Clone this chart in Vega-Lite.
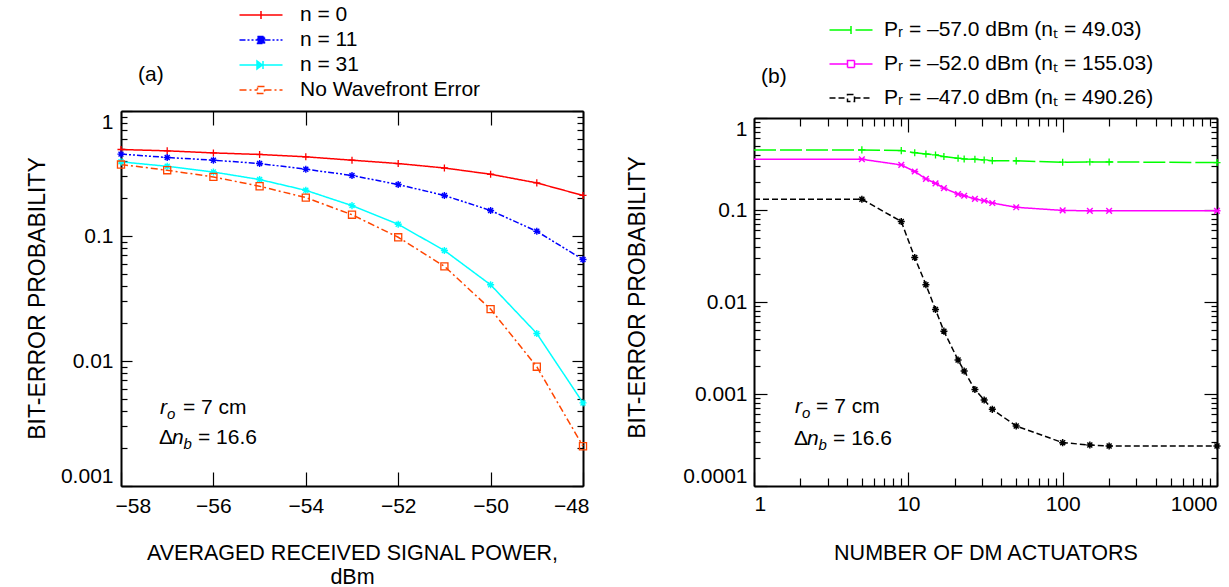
{
  "$schema": "https://vega.github.io/schema/vega-lite/v6.json",
  "autosize": {"type": "pad"},
  "padding": {"left": 26, "top": 4, "right": 0, "bottom": 0},
  "spacing": 171,
  "bounds": "flush",
  "resolve": {"scale": {"color": "independent", "strokeDash": "independent"}, "legend": {"color": "independent", "strokeDash": "independent"}},
  "datasets": {
    "a": [
      {"series": "n = 0", "x": -58, "y": 0.492}, {"series": "n = 0", "x": -57, "y": 0.48}, {"series": "n = 0", "x": -56, "y": 0.462}, {"series": "n = 0", "x": -55, "y": 0.449}, {"series": "n = 0", "x": -54, "y": 0.43}, {"series": "n = 0", "x": -53, "y": 0.404}, {"series": "n = 0", "x": -52, "y": 0.38}, {"series": "n = 0", "x": -51, "y": 0.35}, {"series": "n = 0", "x": -50, "y": 0.312}, {"series": "n = 0", "x": -49, "y": 0.266}, {"series": "n = 0", "x": -48, "y": 0.211},
      {"series": "n = 11", "x": -58, "y": 0.452}, {"series": "n = 11", "x": -57, "y": 0.425}, {"series": "n = 11", "x": -56, "y": 0.404}, {"series": "n = 11", "x": -55, "y": 0.38}, {"series": "n = 11", "x": -54, "y": 0.342}, {"series": "n = 11", "x": -53, "y": 0.305}, {"series": "n = 11", "x": -52, "y": 0.258}, {"series": "n = 11", "x": -51, "y": 0.211}, {"series": "n = 11", "x": -50, "y": 0.16}, {"series": "n = 11", "x": -49, "y": 0.109}, {"series": "n = 11", "x": -48, "y": 0.0648},
      {"series": "n = 31", "x": -58, "y": 0.392}, {"series": "n = 31", "x": -57, "y": 0.361}, {"series": "n = 31", "x": -56, "y": 0.325}, {"series": "n = 31", "x": -55, "y": 0.283}, {"series": "n = 31", "x": -54, "y": 0.232}, {"series": "n = 31", "x": -53, "y": 0.175}, {"series": "n = 31", "x": -52, "y": 0.124}, {"series": "n = 31", "x": -51, "y": 0.0766}, {"series": "n = 31", "x": -50, "y": 0.0407}, {"series": "n = 31", "x": -49, "y": 0.0166}, {"series": "n = 31", "x": -48, "y": 0.00462},
      {"series": "No Wavefront Error", "x": -58, "y": 0.373}, {"series": "No Wavefront Error", "x": -57, "y": 0.336}, {"series": "No Wavefront Error", "x": -56, "y": 0.297}, {"series": "No Wavefront Error", "x": -55, "y": 0.25}, {"series": "No Wavefront Error", "x": -54, "y": 0.203}, {"series": "No Wavefront Error", "x": -53, "y": 0.148}, {"series": "No Wavefront Error", "x": -52, "y": 0.0977}, {"series": "No Wavefront Error", "x": -51, "y": 0.0572}, {"series": "No Wavefront Error", "x": -50, "y": 0.026}, {"series": "No Wavefront Error", "x": -49, "y": 0.009}, {"series": "No Wavefront Error", "x": -48, "y": 0.00208}
    ],
    "b": [
      {"series": "Pᵣ = –57.0 dBm (nₜ = 49.03)", "x": 1, "y": 0.45}, {"series": "Pᵣ = –57.0 dBm (nₜ = 49.03)", "x": 5, "y": 0.45}, {"series": "Pᵣ = –57.0 dBm (nₜ = 49.03)", "x": 9, "y": 0.442}, {"series": "Pᵣ = –57.0 dBm (nₜ = 49.03)", "x": 11, "y": 0.42}, {"series": "Pᵣ = –57.0 dBm (nₜ = 49.03)", "x": 13, "y": 0.407}, {"series": "Pᵣ = –57.0 dBm (nₜ = 49.03)", "x": 15, "y": 0.397}, {"series": "Pᵣ = –57.0 dBm (nₜ = 49.03)", "x": 17, "y": 0.381}, {"series": "Pᵣ = –57.0 dBm (nₜ = 49.03)", "x": 21, "y": 0.365}, {"series": "Pᵣ = –57.0 dBm (nₜ = 49.03)", "x": 23, "y": 0.359}, {"series": "Pᵣ = –57.0 dBm (nₜ = 49.03)", "x": 27, "y": 0.356}, {"series": "Pᵣ = –57.0 dBm (nₜ = 49.03)", "x": 31, "y": 0.35}, {"series": "Pᵣ = –57.0 dBm (nₜ = 49.03)", "x": 35, "y": 0.344}, {"series": "Pᵣ = –57.0 dBm (nₜ = 49.03)", "x": 50, "y": 0.342}, {"series": "Pᵣ = –57.0 dBm (nₜ = 49.03)", "x": 100, "y": 0.331}, {"series": "Pᵣ = –57.0 dBm (nₜ = 49.03)", "x": 150, "y": 0.333}, {"series": "Pᵣ = –57.0 dBm (nₜ = 49.03)", "x": 200, "y": 0.333}, {"series": "Pᵣ = –57.0 dBm (nₜ = 49.03)", "x": 1000, "y": 0.328},
      {"series": "Pᵣ = –52.0 dBm (nₜ = 155.03)", "x": 1, "y": 0.356}, {"series": "Pᵣ = –52.0 dBm (nₜ = 155.03)", "x": 5, "y": 0.356}, {"series": "Pᵣ = –52.0 dBm (nₜ = 155.03)", "x": 9, "y": 0.309}, {"series": "Pᵣ = –52.0 dBm (nₜ = 155.03)", "x": 11, "y": 0.262}, {"series": "Pᵣ = –52.0 dBm (nₜ = 155.03)", "x": 13, "y": 0.218}, {"series": "Pᵣ = –52.0 dBm (nₜ = 155.03)", "x": 15, "y": 0.195}, {"series": "Pᵣ = –52.0 dBm (nₜ = 155.03)", "x": 17, "y": 0.173}, {"series": "Pᵣ = –52.0 dBm (nₜ = 155.03)", "x": 21, "y": 0.149}, {"series": "Pᵣ = –52.0 dBm (nₜ = 155.03)", "x": 23, "y": 0.143}, {"series": "Pᵣ = –52.0 dBm (nₜ = 155.03)", "x": 27, "y": 0.132}, {"series": "Pᵣ = –52.0 dBm (nₜ = 155.03)", "x": 31, "y": 0.126}, {"series": "Pᵣ = –52.0 dBm (nₜ = 155.03)", "x": 35, "y": 0.119}, {"series": "Pᵣ = –52.0 dBm (nₜ = 155.03)", "x": 50, "y": 0.107}, {"series": "Pᵣ = –52.0 dBm (nₜ = 155.03)", "x": 100, "y": 0.0989}, {"series": "Pᵣ = –52.0 dBm (nₜ = 155.03)", "x": 150, "y": 0.098}, {"series": "Pᵣ = –52.0 dBm (nₜ = 155.03)", "x": 200, "y": 0.098}, {"series": "Pᵣ = –52.0 dBm (nₜ = 155.03)", "x": 1000, "y": 0.098},
      {"series": "Pᵣ = –47.0 dBm (nₜ = 490.26)", "x": 1, "y": 0.131}, {"series": "Pᵣ = –47.0 dBm (nₜ = 490.26)", "x": 5, "y": 0.131}, {"series": "Pᵣ = –47.0 dBm (nₜ = 490.26)", "x": 9, "y": 0.075}, {"series": "Pᵣ = –47.0 dBm (nₜ = 490.26)", "x": 11, "y": 0.0305}, {"series": "Pᵣ = –47.0 dBm (nₜ = 490.26)", "x": 13, "y": 0.0154}, {"series": "Pᵣ = –47.0 dBm (nₜ = 490.26)", "x": 15, "y": 0.00828}, {"series": "Pᵣ = –47.0 dBm (nₜ = 490.26)", "x": 17, "y": 0.00482}, {"series": "Pᵣ = –47.0 dBm (nₜ = 490.26)", "x": 21, "y": 0.00234}, {"series": "Pᵣ = –47.0 dBm (nₜ = 490.26)", "x": 23, "y": 0.00178}, {"series": "Pᵣ = –47.0 dBm (nₜ = 490.26)", "x": 27, "y": 0.00112}, {"series": "Pᵣ = –47.0 dBm (nₜ = 490.26)", "x": 31, "y": 0.000859}, {"series": "Pᵣ = –47.0 dBm (nₜ = 490.26)", "x": 35, "y": 0.000681}, {"series": "Pᵣ = –47.0 dBm (nₜ = 490.26)", "x": 50, "y": 0.000449}, {"series": "Pᵣ = –47.0 dBm (nₜ = 490.26)", "x": 100, "y": 0.000296}, {"series": "Pᵣ = –47.0 dBm (nₜ = 490.26)", "x": 150, "y": 0.000279}, {"series": "Pᵣ = –47.0 dBm (nₜ = 490.26)", "x": 200, "y": 0.000272}, {"series": "Pᵣ = –47.0 dBm (nₜ = 490.26)", "x": 1000, "y": 0.000272}
    ]
  },
  "hconcat": [
    {
      "width": 462,
      "height": 375,
      "data": {"name": "a"},
      "layer": [
        {
          "mark": {"type": "line", "strokeWidth": 1.5},
          "encoding": {
            "x": {"field": "x", "type": "quantitative", "scale": {"domain": [-58, -48], "nice": false, "zero": false},
              "axis": {"orient": "bottom", "values": [-58, -56, -54, -52, -50, -48], "tickSize": -14, "labelPadding": 23, "labelFlush": true, "labelFlushOffset": 6,
                "title": ["AVERAGED RECEIVED SIGNAL POWER,", "dBm"], "titleFontSize": 21.5, "titleY": 73, "titleBaseline": "alphabetic", "titleLineHeight": 24}},
            "y": {"field": "y", "type": "quantitative", "scale": {"type": "log", "domain": [0.001, 1], "nice": false},
              "axis": {"orient": "left", "values": [0.001,0.002,0.003,0.004,0.005,0.006,0.007,0.008,0.009,0.01,0.02,0.03,0.04,0.05,0.06,0.07,0.08,0.09,0.1,0.2,0.3,0.4,0.5,0.6,0.7,0.8,0.9,1],
                "tickSize": {"condition": {"test": "indexof([1,0.1,0.01,0.001], datum.value) >= 0", "value": -11}, "value": -6},
                "labelExpr": "indexof([1,0.1,0.01,0.001], datum.value) >= 0 ? datum.label : ''", "format": "~g", "labelPadding": 19, "labelFlush": true,
                "title": "BIT-ERROR PROBABILITY", "titleX": -77, "titleY": 187, "titleBaseline": "alphabetic", "titleFontSize": 23}},
            "color": {"field": "series", "type": "nominal",
              "scale": {"domain": ["n = 0", "n = 11", "n = 31", "No Wavefront Error"], "range": ["#ff0000", "#0000ff", "#00ffff", "#ff4500"]},
              "legend": {"orient": "none", "legendX": 129.5, "legendY": -106.5, "title": null, "padding": 0, "symbolSize": 100, "labelFontSize": 21, "labelOffset": 28.5, "rowPadding": 3, "labelLimit": 0,
                "encode": {"symbols": {"update": {
                  "shape": {"signal": "datum.value === 'n = 0' ? 'M-4.3,0L4.3,0M0,-0.8L0,0.8' : datum.value === 'n = 31' ? 'M-4.3,0L-0.8,0M0.4,0L4.3,0M-0.8,-0.8L0.25,0L-0.8,0.8ZM0.4,-0.8L0.4,0.8' : 'M-4.3,0L-0.7,0M0.7,0L4.3,0M-0.7,-0.7L0.7,-0.7L0.7,0.7L-0.7,0.7Z'"},
                  "size": {"value": 100},
                  "strokeDash": {"signal": "datum.value === 'n = 11' ? [4,3] : datum.value === 'No Wavefront Error' ? [5,3] : [1,0]"},
                  "fill": {"signal": "datum.value === 'n = 11' ? '#0000ff' : datum.value === 'n = 31' ? '#00ffff' : 'transparent'"},
                  "strokeWidth": {"value": 1.5},
                  "opacity": {"value": 1}
                }}}}},
            "strokeDash": {"field": "series", "type": "nominal",
              "scale": {"domain": ["n = 0", "n = 11", "n = 31", "No Wavefront Error"], "range": [[1, 0], [6, 2, 2, 2, 2, 2], [1, 0], [7, 3, 2, 3]]}, "legend": null}
          }
        },
        {
          "transform": [{"filter": "datum.series === 'n = 0'"}],
          "mark": {"type": "point", "filled": false, "strokeWidth": 1.3, "size": 50, "opacity": 1, "color": "#ff0000", "shape": "M-1,0L1,0M0,-1L0,1"},
          "encoding": {
            "x": {"field": "x", "type": "quantitative",
              "axis": {"orient": "top", "values": [-58, -56, -54, -52, -50, -48], "tickSize": -14, "labels": false, "title": null}},
            "y": {"field": "y", "type": "quantitative",
              "axis": {"orient": "right", "values": [0.001,0.002,0.003,0.004,0.005,0.006,0.007,0.008,0.009,0.01,0.02,0.03,0.04,0.05,0.06,0.07,0.08,0.09,0.1,0.2,0.3,0.4,0.5,0.6,0.7,0.8,0.9,1],
                "tickSize": {"condition": {"test": "indexof([1,0.1,0.01,0.001], datum.value) >= 0", "value": -11}, "value": -6}, "labels": false, "title": null}}
          }
        },
        {
          "transform": [{"filter": "datum.series === 'n = 11'"}],
          "mark": {"type": "point", "filled": false, "strokeWidth": 1.4, "size": 50, "opacity": 1, "color": "#0000ff", "shape": "M-1,0L1,0M0,-1L0,1M-0.7,-0.7L0.7,0.7M-0.7,0.7L0.7,-0.7"},
          "encoding": {"x": {"field": "x", "type": "quantitative", "axis": null}, "y": {"field": "y", "type": "quantitative", "axis": null}}
        },
        {
          "transform": [{"filter": "datum.series === 'n = 31'"}],
          "mark": {"type": "point", "filled": false, "strokeWidth": 1.4, "size": 50, "opacity": 1, "color": "#00ffff", "shape": "M-1,0L1,0M0,-1L0,1M-0.7,-0.7L0.7,0.7M-0.7,0.7L0.7,-0.7"},
          "encoding": {"x": {"field": "x", "type": "quantitative", "axis": null}, "y": {"field": "y", "type": "quantitative", "axis": null}}
        },
        {
          "transform": [{"filter": "datum.series === 'No Wavefront Error'"}],
          "mark": {"type": "point", "filled": false, "strokeWidth": 1.3, "size": 50, "opacity": 1, "color": "#ff4500", "shape": "square"},
          "encoding": {"x": {"field": "x", "type": "quantitative", "axis": null}, "y": {"field": "y", "type": "quantitative", "axis": null}}
        },
        {"data": {"values": [{}]}, "mark": {"type": "text", "text": "(a)", "fontSize": 21, "align": "left", "baseline": "middle", "color": "black"},
          "encoding": {"x": {"datum": -57.63, "type": "quantitative", "axis": null}, "y": {"datum": 1.94, "type": "quantitative", "axis": null}}},
        {"data": {"values": [{}]}, "mark": {"type": "text", "text": "r", "fontStyle": "italic", "fontSize": 21, "align": "left", "baseline": "alphabetic", "color": "black"},
          "encoding": {"x": {"datum": -57.156, "type": "quantitative", "axis": null}, "y": {"datum": 0.00375, "type": "quantitative", "axis": null}}},
        {"data": {"values": [{}]}, "mark": {"type": "text", "text": "o", "fontStyle": "italic", "fontSize": 15, "align": "left", "baseline": "alphabetic", "dx": 7, "dy": 5, "color": "black"},
          "encoding": {"x": {"datum": -57.156, "type": "quantitative", "axis": null}, "y": {"datum": 0.00375, "type": "quantitative", "axis": null}}},
        {"data": {"values": [{}]}, "mark": {"type": "text", "text": "= 7 cm", "fontSize": 21, "align": "left", "baseline": "alphabetic", "dx": 23, "color": "black"},
          "encoding": {"x": {"datum": -57.156, "type": "quantitative", "axis": null}, "y": {"datum": 0.00375, "type": "quantitative", "axis": null}}},
        {"data": {"values": [{}]}, "mark": {"type": "text", "text": "Δ", "fontSize": 21, "align": "left", "baseline": "alphabetic", "dx": -1, "color": "black"},
          "encoding": {"x": {"datum": -57.156, "type": "quantitative", "axis": null}, "y": {"datum": 0.00215, "type": "quantitative", "axis": null}}},
        {"data": {"values": [{}]}, "mark": {"type": "text", "text": "n", "fontStyle": "italic", "fontSize": 21, "align": "left", "baseline": "alphabetic", "dx": 12, "color": "black"},
          "encoding": {"x": {"datum": -57.156, "type": "quantitative", "axis": null}, "y": {"datum": 0.00215, "type": "quantitative", "axis": null}}},
        {"data": {"values": [{}]}, "mark": {"type": "text", "text": "b", "fontStyle": "italic", "fontSize": 15, "align": "left", "baseline": "alphabetic", "dx": 23.5, "dy": 5, "color": "black"},
          "encoding": {"x": {"datum": -57.156, "type": "quantitative", "axis": null}, "y": {"datum": 0.00215, "type": "quantitative", "axis": null}}},
        {"data": {"values": [{}]}, "mark": {"type": "text", "text": "= 16.6", "fontSize": 21, "align": "left", "baseline": "alphabetic", "dx": 38, "color": "black"},
          "encoding": {"x": {"datum": -57.156, "type": "quantitative", "axis": null}, "y": {"datum": 0.00215, "type": "quantitative", "axis": null}}}
      ]
    },
    {
      "width": 463,
      "height": 375,
      "data": {"name": "b"},
      "layer": [
        {
          "mark": {"type": "line", "strokeWidth": 1.5},
          "encoding": {
            "x": {"field": "x", "type": "quantitative", "scale": {"type": "log", "domain": [1, 1000], "nice": false},
              "axis": {"orient": "bottom", "values": [1,2,3,4,5,6,7,8,9,10,20,30,40,50,60,70,80,90,100,200,300,400,500,600,700,800,900,1000],
                "tickSize": {"condition": {"test": "indexof([1,10,100,1000], datum.value) >= 0", "value": -14}, "value": -8},
                "labelExpr": "indexof([1,10,100,1000], datum.value) >= 0 ? datum.label : ''", "format": "~g", "labelPadding": 21, "labelFlush": true,
                "title": "NUMBER OF DM ACTUATORS", "titleFontSize": 21.5, "titleY": 73, "titleBaseline": "alphabetic"}},
            "y": {"field": "y", "type": "quantitative", "scale": {"type": "log", "domain": [0.0001, 1], "nice": false, "range": [375, 7]},
              "axis": {"orient": "left", "values": [0.0001,0.0002,0.0003,0.0004,0.0005,0.0006,0.0007,0.0008,0.0009,0.001,0.002,0.003,0.004,0.005,0.006,0.007,0.008,0.009,0.01,0.02,0.03,0.04,0.05,0.06,0.07,0.08,0.09,0.1,0.2,0.3,0.4,0.5,0.6,0.7,0.8,0.9,1],
                "tickSize": {"condition": {"test": "indexof([1,0.1,0.01,0.001,0.0001], datum.value) >= 0", "value": -13}, "value": -6},
                "labelExpr": "indexof([1,0.1,0.01,0.001,0.0001], datum.value) >= 0 ? datum.label : ''", "format": "~g", "labelPadding": 20, "labelFlush": true,
                "title": "BIT-ERROR PROBABILITY", "titleX": -110, "titleY": 186, "titleBaseline": "alphabetic", "titleFontSize": 23}},
            "color": {"field": "series", "type": "nominal",
              "scale": {"domain": ["Pᵣ = –57.0 dBm (nₜ = 49.03)", "Pᵣ = –52.0 dBm (nₜ = 155.03)", "Pᵣ = –47.0 dBm (nₜ = 490.26)"], "range": ["#00ff00", "#ff00ff", "#000000"]},
              "legend": {"orient": "none", "legendX": 86.5, "legendY": -91.5, "title": null, "padding": 0, "symbolSize": 100, "labelFontSize": 21, "labelOffset": 22.5, "rowPadding": 12, "labelLimit": 0,
                "encode": {"symbols": {"update": {
                  "shape": {"signal": "indexof(datum.value, '57.0') >= 0 ? 'M-4.3,0L4.3,0M0,-0.8L0,0.8' : 'M-4.3,0L-0.7,0M0.7,0L4.3,0M-0.7,-0.7L0.7,-0.7L0.7,0.7L-0.7,0.7Z'"},
                  "size": {"value": 100},
                  "strokeDash": {"signal": "indexof(datum.value, '47.0') >= 0 ? [4,3] : [1,0]"},
                  "fill": {"value": "transparent"},
                  "strokeWidth": {"value": 1.5},
                  "opacity": {"value": 1}
                }}}}},
            "strokeDash": {"field": "series", "type": "nominal",
              "scale": {"domain": ["Pᵣ = –57.0 dBm (nₜ = 49.03)", "Pᵣ = –52.0 dBm (nₜ = 155.03)", "Pᵣ = –47.0 dBm (nₜ = 490.26)"], "range": [[22, 4], [1, 0], [6, 3]]}, "legend": null}
          }
        },
        {
          "transform": [{"filter": "datum.x > 1 && indexof(datum.series, '57.0') >= 0"}],
          "mark": {"type": "point", "filled": false, "strokeWidth": 1.3, "size": 50, "opacity": 1, "color": "#00ff00", "shape": "M-1,0L1,0M0,-1L0,1"},
          "encoding": {
            "x": {"field": "x", "type": "quantitative",
              "axis": {"orient": "top", "values": [1,2,3,4,5,6,7,8,9,10,20,30,40,50,60,70,80,90,100,200,300,400,500,600,700,800,900,1000],
                "tickSize": {"condition": {"test": "indexof([1,10,100,1000], datum.value) >= 0", "value": -14}, "value": -8}, "labels": false, "title": null, "offset": -7}},
            "y": {"field": "y", "type": "quantitative",
              "axis": {"orient": "right", "values": [0.0001,0.0002,0.0003,0.0004,0.0005,0.0006,0.0007,0.0008,0.0009,0.001,0.002,0.003,0.004,0.005,0.006,0.007,0.008,0.009,0.01,0.02,0.03,0.04,0.05,0.06,0.07,0.08,0.09,0.1,0.2,0.3,0.4,0.5,0.6,0.7,0.8,0.9,1],
                "tickSize": {"condition": {"test": "indexof([1,0.1,0.01,0.001,0.0001], datum.value) >= 0", "value": -13}, "value": -6}, "labels": false, "title": null}}
          }
        },
        {
          "transform": [{"filter": "datum.x > 1 && indexof(datum.series, '52.0') >= 0"}],
          "mark": {"type": "point", "filled": false, "strokeWidth": 1.4, "size": 50, "opacity": 1, "color": "#ff00ff", "shape": "M-0.8,-0.8L0.8,0.8M-0.8,0.8L0.8,-0.8M-1,0L1,0"},
          "encoding": {"x": {"field": "x", "type": "quantitative", "axis": null}, "y": {"field": "y", "type": "quantitative", "axis": null}}
        },
        {
          "transform": [{"filter": "datum.x > 1 && indexof(datum.series, '47.0') >= 0"}],
          "mark": {"type": "point", "filled": false, "strokeWidth": 1.5, "size": 50, "opacity": 1, "color": "#000000", "shape": "M-1,0L1,0M0,-1L0,1M-0.7,-0.7L0.7,0.7M-0.7,0.7L0.7,-0.7"},
          "encoding": {"x": {"field": "x", "type": "quantitative", "axis": null}, "y": {"field": "y", "type": "quantitative", "axis": null}}
        },
        {"data": {"values": [{}]}, "mark": {"type": "text", "text": "(b)", "fontSize": 21, "align": "left", "baseline": "middle", "color": "black"},
          "encoding": {"x": {"datum": 1.11, "type": "quantitative", "axis": null}, "y": {"datum": 2.79, "type": "quantitative", "axis": null}}},
        {"data": {"values": [{}]}, "mark": {"type": "text", "text": "r", "fontStyle": "italic", "fontSize": 21, "align": "left", "baseline": "alphabetic", "color": "black"},
          "encoding": {"x": {"datum": 1.845, "type": "quantitative", "axis": null}, "y": {"datum": 0.000616, "type": "quantitative", "axis": null}}},
        {"data": {"values": [{}]}, "mark": {"type": "text", "text": "o", "fontStyle": "italic", "fontSize": 15, "align": "left", "baseline": "alphabetic", "dx": 7, "dy": 5, "color": "black"},
          "encoding": {"x": {"datum": 1.845, "type": "quantitative", "axis": null}, "y": {"datum": 0.000616, "type": "quantitative", "axis": null}}},
        {"data": {"values": [{}]}, "mark": {"type": "text", "text": "= 7 cm", "fontSize": 21, "align": "left", "baseline": "alphabetic", "dx": 21, "color": "black"},
          "encoding": {"x": {"datum": 1.845, "type": "quantitative", "axis": null}, "y": {"datum": 0.000616, "type": "quantitative", "axis": null}}},
        {"data": {"values": [{}]}, "mark": {"type": "text", "text": "Δ", "fontSize": 21, "align": "left", "baseline": "alphabetic", "dx": -1, "color": "black"},
          "encoding": {"x": {"datum": 1.845, "type": "quantitative", "axis": null}, "y": {"datum": 0.000277, "type": "quantitative", "axis": null}}},
        {"data": {"values": [{}]}, "mark": {"type": "text", "text": "n", "fontStyle": "italic", "fontSize": 21, "align": "left", "baseline": "alphabetic", "dx": 12, "color": "black"},
          "encoding": {"x": {"datum": 1.845, "type": "quantitative", "axis": null}, "y": {"datum": 0.000277, "type": "quantitative", "axis": null}}},
        {"data": {"values": [{}]}, "mark": {"type": "text", "text": "b", "fontStyle": "italic", "fontSize": 15, "align": "left", "baseline": "alphabetic", "dx": 23.5, "dy": 5, "color": "black"},
          "encoding": {"x": {"datum": 1.845, "type": "quantitative", "axis": null}, "y": {"datum": 0.000277, "type": "quantitative", "axis": null}}},
        {"data": {"values": [{}]}, "mark": {"type": "text", "text": "= 16.6", "fontSize": 21, "align": "left", "baseline": "alphabetic", "dx": 38, "color": "black"},
          "encoding": {"x": {"datum": 1.845, "type": "quantitative", "axis": null}, "y": {"datum": 0.000277, "type": "quantitative", "axis": null}}}
      ]
    }
  ],
  "config": {
    "font": "Liberation Sans",
    "view": {"stroke": null},
    "axis": {"grid": false, "domainColor": "black", "domainWidth": 2, "tickColor": "black", "tickWidth": 1.2, "labelColor": "black", "labelFontSize": 21, "labelFont": "Liberation Sans", "labelOverlap": false, "titleColor": "black", "titleFont": "Liberation Sans", "titleFontWeight": "normal"},
    "legend": {"labelColor": "black", "labelFont": "Liberation Sans"},
    "text": {"font": "Liberation Sans"}
  }
}
